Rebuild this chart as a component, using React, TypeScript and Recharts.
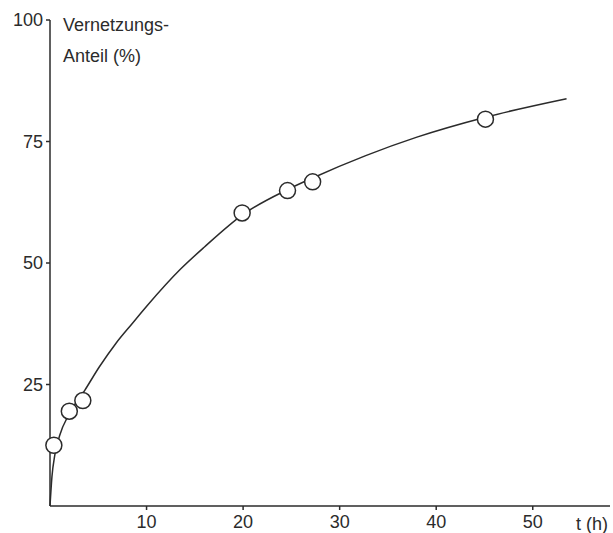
import { ComposedChart, Line, Scatter, XAxis, YAxis } from 'recharts';

// curve: hours vs. crosslinked share (%)
const curveT = [0, 0.2, 0.5, 1, 2, 3.6, 5.1, 6.8, 8.5, 10.1, 13.5, 16, 20, 24.6, 27.2, 32.7, 38, 45.1, 53.5];
const curveV = [0, 6, 10.5, 14.5, 19, 23.8, 28.6, 33.4, 37.5, 41.3, 48.7, 53.3, 60, 65.1, 67.5, 72.1, 75.9, 80, 83.8];

// measured points (circles)
const pointT = [0.4, 2.0, 3.4, 19.9, 24.6, 27.2, 45.1];
const pointV = [12.5, 19.5, 21.7, 60.3, 64.9, 66.7, 79.6];

const xTicks = [10, 20, 30, 40, 50];
const yTicks = [25, 50, 75, 100];

const curve = curveT.map((t, i) => ({ t, v: curveV[i] }));
const points = pointT.map((t, i) => ({ t, v: pointV[i] }));

const ink = '#2b2b2b';
const font = '"Liberation Sans", Arial, sans-serif';

const Ring = (props: any) => (
  <circle cx={props.cx} cy={props.cy} r={8} fill="#fff" stroke={ink} strokeWidth={1.5} />
);

const YLabel = (props: any) => {
  const vb = props.viewBox;
  const x = vb.x + vb.width + 13;
  return (
    <g fill={ink} fontFamily={font} fontSize={18}>
      <text x={x} y={vb.y + 11}>Vernetzungs-</text>
      <text x={x} y={vb.y + 42}>Anteil (%)</text>
    </g>
  );
};

const XLabel = (props: any) => {
  const vb = props.viewBox;
  return (
    <text x={vb.x + vb.width - 2} y={vb.y + 24} textAnchor="end" fill={ink} fontFamily={font} fontSize={18}>
      t (h)
    </text>
  );
};

export default function App() {
  return (
    <div style={{ width: 613, height: 533, background: '#fff' }}>
      <style>{`body{margin:0}`}</style>
      <ComposedChart width={613} height={533} margin={{ top: 20, right: 3, bottom: 0, left: 0 }}>
        <XAxis
          type="number"
          dataKey="t"
          domain={[0, 58]}
          ticks={xTicks}
          tickSize={4}
          tickMargin={5}
          height={27}
          stroke={ink}
          strokeWidth={1.5}
          tick={{ fill: ink, fontFamily: font, fontSize: 18 }}
          label={{ content: XLabel }}
        />
        <YAxis
          type="number"
          dataKey="v"
          domain={[0, 100]}
          ticks={yTicks}
          tickSize={4}
          tickMargin={3}
          width={50}
          stroke={ink}
          strokeWidth={1.5}
          tick={{ fill: ink, fontFamily: font, fontSize: 18 }}
          label={{ content: YLabel }}
        />
        <Line
          data={curve}
          dataKey="v"
          type="monotone"
          stroke={ink}
          strokeWidth={1.5}
          dot={false}
          activeDot={false}
          isAnimationActive={false}
        />
        <Scatter data={points} dataKey="v" shape={Ring} isAnimationActive={false} />
      </ComposedChart>
    </div>
  );
}
